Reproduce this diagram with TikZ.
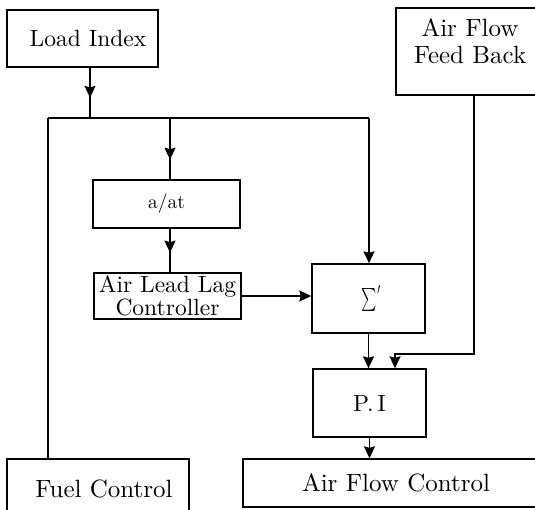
\documentclass[tikz,border=0pt]{standalone}
\usepackage{graphicx}
\usepackage{fontspec}
\setmainfont{lmroman10-regular.otf}
\usetikzlibrary{arrows.meta,decorations.markings}
\begin{document}
\begin{tikzpicture}[x=1pt,y=-1pt,line width=1.4pt,
  box/.style={draw,rectangle,inner sep=0pt,line width=1.4pt},
  tip/.style={-{Stealth[inset=1.5pt,width=11pt,length=12pt]}},
  midtip/.style={postaction={decorate},decoration={markings,mark=at position #1 with {\arrow{Stealth[inset=1.5pt,width=11pt,length=12pt]}}}},
  big/.style={font=\fontsize{23.5}{27}\selectfont}]
\useasboundingbox (0,0) rectangle (535,509);
% boxes
\node[box,big,minimum width=151pt,minimum height=57pt] (li) at (82.5,38.5) {\hspace*{11pt}Load Index};
\node[box,minimum width=144pt,minimum height=87pt] (affb) at (468,51.5) {};
\node[font=\fontsize{25}{27}\selectfont,align=center,inner sep=0pt,xshift=2pt,yshift=10pt] (affbt) at (affb.center) {Air Flow\\Feed Back};
\node[box,font=\fontsize{19.5}{22}\selectfont,minimum width=147pt,minimum height=48pt] (aat) at (166.5,204) {a/at};
\node[box,font=\fontsize{23.5}{21}\selectfont,align=center,minimum width=147pt,minimum height=46pt] (all) at (167.5,296) {Air Lead Lag\\Controller};
\node[box,minimum width=113pt,minimum height=69pt] (sig) at (368.5,298.5) {\hspace*{6pt}\scalebox{1.45}[2.3]{$\sum'$}};
\node[box,big,minimum width=113pt,minimum height=68pt] (pi) at (369.5,403) {P.\,I};
\node[box,font=\fontsize{25}{27}\selectfont,minimum width=182pt,minimum height=60pt] (fuel) at (98,489) {\hspace*{12pt}Fuel Control};
\node[box,font=\fontsize{25}{27}\selectfont,minimum width=297pt,minimum height=48pt] (afc) at (391.5,483) {\hspace*{9pt}Air Flow Control};
% junction points
\coordinate (jl) at (48,118);
\coordinate (j1) at (90,118);
\coordinate (j2) at (170,118);
\coordinate (jr) at (369,118);
\coordinate (fb1) at (474,354);
\coordinate (fb2) at (395,354);
% connectors
\draw[midtip=0.6] (li.south -| j1) -- (j1);
\draw (jl) -- (jr);
\draw (jl) -- (fuel.north -| jl);
\draw[midtip=0.68] (j2) -- (aat.north -| j2);
\draw[midtip=0.55] (aat.south -| j2) -- (all.north -| j2);
\draw[tip] (all.east) -- (all.east -| sig.west);
\draw[tip] (jr) -- (sig.north -| jr);
\draw[tip] (sig.south) -- (sig.south |- pi.north);
\draw[tip] (affb.south -| fb1) -- (fb1) -- (fb2) -- (fb2 |- pi.north);
\draw[tip] (pi.south) -- (pi.south |- afc.north);
\end{tikzpicture}
\end{document}
